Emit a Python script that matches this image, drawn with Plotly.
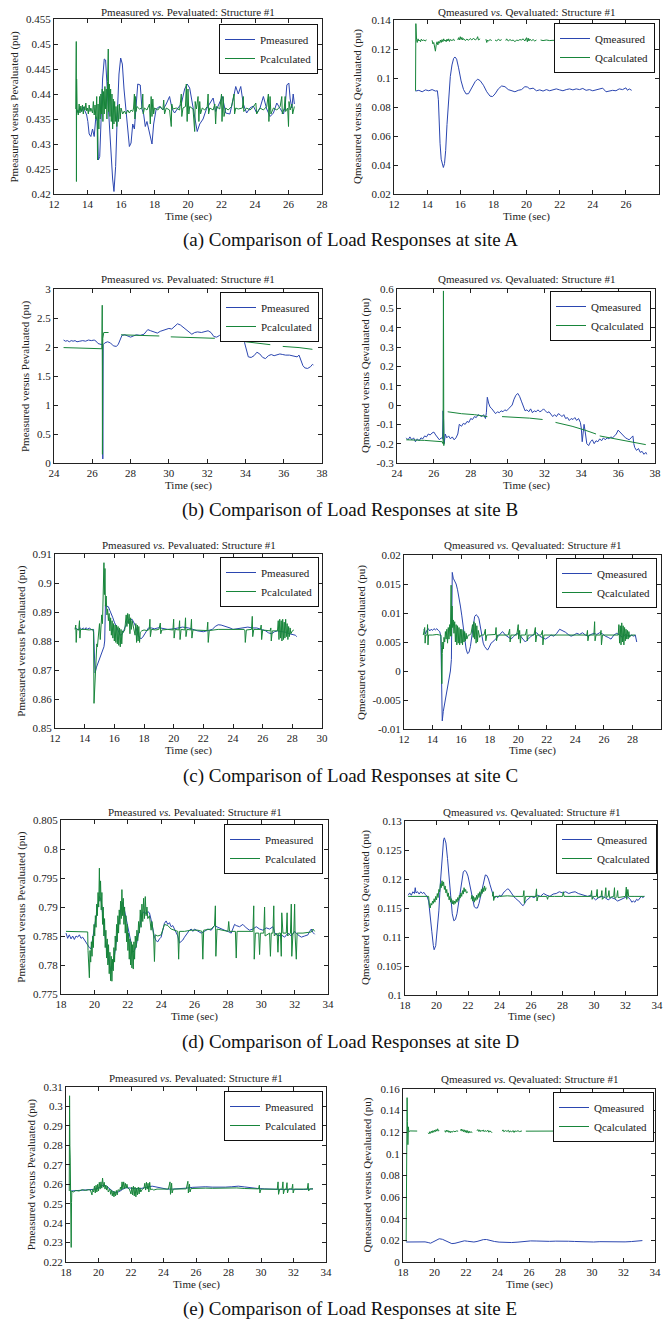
import plotly.graph_objects as go

W, H = 663, 1320
BLUE = "#2b46b0"
GREEN = "#17853a"
FONT = "Liberation Serif, Times New Roman, serif"

# ---------------- tick labels ----------------
x_ticks_a = ["12", "14", "16", "18", "20", "22", "24", "26", "28"]
x_ticks_b = ["24", "26", "28", "30", "32", "34", "36", "38"]
x_ticks_c = ["12", "14", "16", "18", "20", "22", "24", "26", "28", "30"]
x_ticks_de = ["18", "20", "22", "24", "26", "28", "30", "32", "34"]

a_p_yticks = ["0.42", "0.425", "0.43", "0.435", "0.44", "0.445", "0.45", "0.455"]
a_q_yticks = ["0.02", "0.04", "0.06", "0.08", "0.1", "0.12", "0.14"]
b_p_yticks = ["0", "0.5", "1", "1.5", "2", "2.5", "3"]
b_q_yticks = ["-0.3", "-0.2", "-0.1", "0", "0.1", "0.2", "0.3", "0.4", "0.5", "0.6"]
c_p_yticks = ["0.85", "0.86", "0.87", "0.88", "0.89", "0.9", "0.91"]
c_q_yticks = ["-0.01", "-0.005", "0", "0.005", "0.01", "0.015", "0.02"]
d_p_yticks = ["0.775", "0.78", "0.785", "0.79", "0.795", "0.8", "0.805"]
d_q_yticks = ["0.1", "0.105", "0.11", "0.115", "0.12", "0.125", "0.13"]
e_p_yticks = ["0.22", "0.23", "0.24", "0.25", "0.26", "0.27", "0.28", "0.29", "0.3", "0.31"]
e_q_yticks = ["0", "0.02", "0.04", "0.06", "0.08", "0.1", "0.12", "0.14", "0.16"]

captions = [
    "(a) Comparison of Load Responses at site A",
    "(b) Comparison of Load Responses at site B",
    "(c) Comparison of Load Responses at site C",
    "(d) Comparison of Load Responses at site D",
    "(e) Comparison of Load Responses at site E",
]

# ---------------- site A ----------------
a_p_meas = [(13.33,0.4370),(13.45,0.4362),(13.55,0.4372),(13.65,0.4365),(13.75,0.4374),(13.85,0.4366),(13.95,0.4358),(14.02,0.4345),(14.1,0.4320),(14.2,0.4315),(14.3,0.4330),(14.4,0.4315),(14.5,0.4355),(14.58,0.4345),(14.65,0.4268),(14.73,0.4275),(14.8,0.4340),(14.9,0.4430),(15.0,0.4470),(15.08,0.4468),(15.18,0.4410),(15.3,0.4340),(15.4,0.4280),(15.5,0.4230),(15.58,0.4205),(15.68,0.4255),(15.78,0.4360),(15.88,0.4440),(15.98,0.4472),(16.08,0.4460),(16.18,0.4410),(16.28,0.4370),(16.38,0.4340),(16.5,0.4295),(16.6,0.4302),(16.7,0.4340),(16.8,0.4330),(16.9,0.4380),(17.0,0.4420),(17.15,0.4418),(17.25,0.4370),(17.35,0.4360),(17.45,0.4335),(17.55,0.4345),(17.7,0.4320),(17.85,0.4300),(17.95,0.4340),(18.1,0.4370),(18.3,0.4375),(18.5,0.4368),(18.7,0.4380),(18.9,0.4395),(19.05,0.4370),(19.2,0.4362),(19.4,0.4372),(19.6,0.4380),(19.8,0.4410),(19.95,0.4420),(20.1,0.4412),(20.25,0.4380),(20.4,0.4350),(20.55,0.4325),(20.7,0.4340),(20.9,0.4350),(21.1,0.4370),(21.3,0.4382),(21.5,0.4392),(21.65,0.4365),(21.85,0.4380),(22.05,0.4395),(22.25,0.4362),(22.5,0.4360),(22.7,0.4390),(22.85,0.4415),(23.0,0.4400),(23.15,0.4415),(23.3,0.4380),(23.5,0.4362),(23.7,0.4372),(23.9,0.4376),(24.1,0.4362),(24.3,0.4372),(24.5,0.4395),(24.7,0.4370),(24.9,0.4355),(25.1,0.4362),(25.3,0.4382),(25.5,0.4370),(25.7,0.4360),(25.8,0.4375),(25.9,0.4418),(26.02,0.4422),(26.1,0.4390),(26.2,0.4372),(26.28,0.4400),(26.35,0.4380)]
a_p_calc = [(13.30,0.4370),(13.31,0.4505),(13.32,0.4445),(13.33,0.4505),(13.34,0.4225),(13.35,0.4430),(13.36,0.4300),(13.38,0.4370),(13.45,0.4358),(13.5,0.4380),(13.55,0.4362),(13.6,0.4376),(13.65,0.4365),(13.7,0.4378),(13.75,0.4360),(13.8,0.4375),(13.85,0.4368),(13.9,0.4382),(13.95,0.4366),(14.0,0.4372),(14.05,0.4360),(14.1,0.4378),(14.15,0.4365),(14.2,0.4372),(14.3,0.4362),(14.35,0.4385),(14.4,0.4358),(14.45,0.4378),(14.5,0.4350),(14.55,0.4395),(14.58,0.4340),(14.6,0.4268),(14.63,0.4380),(14.68,0.4330),(14.72,0.4395),(14.76,0.4350),(14.8,0.4400),(14.84,0.4360),(14.88,0.4410),(14.92,0.4345),(14.96,0.4405),(15.0,0.4360),(15.04,0.4415),(15.08,0.4370),(15.12,0.4410),(15.16,0.4350),(15.2,0.4425),(15.24,0.4490),(15.26,0.4365),(15.3,0.4420),(15.34,0.4355),(15.38,0.4410),(15.42,0.4345),(15.46,0.4400),(15.5,0.4330),(15.54,0.4390),(15.58,0.4340),(15.62,0.4385),(15.66,0.4345),(15.7,0.4375),(15.75,0.4335),(15.8,0.4378),(15.85,0.4345),(15.9,0.4380),(15.95,0.4350),(16.0,0.4372),(16.1,0.4360),(16.2,0.4366),(16.3,0.4360),(16.4,0.4368),(16.5,0.4362),(16.6,0.4368),(16.7,0.4365),(16.75,0.4372),(16.8,0.4400),(16.83,0.4350),(16.87,0.4395),(16.9,0.4365),(16.95,0.4375),(17.1,0.4370),(17.25,0.4372),(17.3,0.4400),(17.33,0.4360),(17.4,0.4372),(17.55,0.4368),(17.7,0.4380),(17.75,0.4340),(17.8,0.4395),(17.85,0.4355),(17.9,0.4390),(17.95,0.4360),(18.0,0.4372),(18.2,0.4368),(18.35,0.4375),(18.5,0.4368),(18.55,0.4388),(18.6,0.4360),(18.7,0.4372),(18.9,0.4368),(19.0,0.4335),(19.03,0.4380),(19.1,0.4370),(19.3,0.4372),(19.5,0.4368),(19.6,0.4400),(19.63,0.4355),(19.7,0.4372),(19.85,0.4375),(19.9,0.4420),(19.95,0.4345),(20.0,0.4410),(20.05,0.4360),(20.1,0.4375),(20.3,0.4370),(20.4,0.4325),(20.43,0.4385),(20.5,0.4370),(20.6,0.4395),(20.65,0.4345),(20.7,0.4385),(20.75,0.4360),(20.85,0.4372),(21.0,0.4368),(21.15,0.4375),(21.2,0.4400),(21.23,0.4360),(21.3,0.4372),(21.5,0.4368),(21.6,0.4380),(21.65,0.4340),(21.7,0.4375),(21.9,0.4370),(22.0,0.4400),(22.03,0.4345),(22.1,0.4395),(22.15,0.4355),(22.25,0.4372),(22.4,0.4368),(22.6,0.4375),(22.75,0.4400),(22.78,0.4360),(22.85,0.4372),(23.0,0.4370),(23.25,0.4372),(23.3,0.4395),(23.33,0.4365),(23.5,0.4372),(23.7,0.4368),(23.9,0.4374),(24.05,0.4382),(24.1,0.4360),(24.3,0.4372),(24.5,0.4368),(24.7,0.4375),(24.8,0.4400),(24.83,0.4345),(24.9,0.4395),(24.95,0.4360),(25.1,0.4372),(25.3,0.4368),(25.5,0.4375),(25.6,0.4395),(25.63,0.4360),(25.75,0.4372),(25.8,0.4395),(25.83,0.4365),(25.95,0.4372),(26.0,0.4335),(26.03,0.4385),(26.1,0.4368),(26.2,0.4380),(26.25,0.4360),(26.35,0.4375)]
a_q_meas = [(13.3,0.0910),(13.5,0.0915),(13.7,0.0905),(13.9,0.0918),(14.1,0.0912),(14.3,0.0920),(14.5,0.0910),(14.62,0.0912),(14.68,0.0850),(14.72,0.0700),(14.78,0.0550),(14.85,0.0440),(14.92,0.0395),(14.98,0.0383),(15.05,0.0410),(15.12,0.0500),(15.2,0.0680),(15.3,0.0880),(15.4,0.1010),(15.5,0.1090),(15.6,0.1135),(15.68,0.1145),(15.78,0.1130),(15.9,0.1070),(16.05,0.0980),(16.2,0.0920),(16.35,0.0890),(16.5,0.0892),(16.7,0.0930),(16.9,0.0975),(17.05,0.0992),(17.2,0.0982),(17.4,0.0950),(17.6,0.0905),(17.8,0.0875),(17.95,0.0872),(18.1,0.0890),(18.3,0.0925),(18.5,0.0945),(18.7,0.0940),(18.9,0.0920),(19.1,0.0912),(19.3,0.0905),(19.5,0.0915),(19.7,0.0920),(19.9,0.0940),(20.05,0.0938),(20.2,0.0925),(20.4,0.0930),(20.6,0.0912),(20.8,0.0918),(21.0,0.0910),(21.2,0.0920),(21.4,0.0912),(21.6,0.0918),(21.8,0.0925),(22.0,0.0918),(22.2,0.0912),(22.4,0.0920),(22.6,0.0925),(22.8,0.0918),(23.0,0.0925),(23.2,0.0920),(23.4,0.0928),(23.6,0.0915),(23.8,0.0920),(24.0,0.0912),(24.2,0.0918),(24.4,0.0928),(24.6,0.0930),(24.8,0.0905),(25.0,0.0908),(25.2,0.0915),(25.4,0.0912),(25.6,0.0925),(25.8,0.0920),(26.0,0.0932),(26.1,0.0915),(26.2,0.0925),(26.35,0.0915)]
a_q_calc = [(13.3,0.0912),(13.32,0.1375),(13.34,0.1200),(13.36,0.1265),(13.4,0.1245),(13.45,0.1270),(13.5,0.1255),(13.55,0.1262),(13.6,0.1250),(13.65,0.1268),(13.7,0.1258),(13.8,0.1262),(13.9,0.1255),(13.95,0.1265),(14.0,None),(14.3,0.1260),(14.35,0.1235),(14.4,0.1245),(14.45,0.1200),(14.5,0.1185),(14.55,0.1230),(14.6,0.1250),(14.65,0.1228),(14.7,0.1252),(14.75,0.1240),(14.8,0.1262),(14.85,0.1245),(14.9,0.1265),(14.95,0.1250),(15.0,0.1270),(15.05,0.1255),(15.1,0.1262),(15.15,0.1250),(15.2,0.1268),(15.25,0.1255),(15.3,0.1270),(15.35,0.1252),(15.4,0.1265),(15.5,0.1258),(15.6,0.1268),(15.65,0.1255),(15.7,None),(15.85,0.1262),(15.9,0.1278),(15.95,0.1262),(16.0,0.1285),(16.05,0.1265),(16.1,0.1280),(16.15,0.1262),(16.2,0.1272),(16.3,0.1258),(16.4,0.1268),(16.5,0.1260),(16.6,0.1272),(16.7,0.1262),(16.8,0.1275),(16.9,0.1262),(17.0,0.1270),(17.05,0.1285),(17.1,0.1262),(17.2,0.1270),(17.3,None),(17.55,0.1268),(17.6,0.1245),(17.65,0.1262),(17.7,0.1255),(17.8,0.1265),(17.9,0.1258),(18.0,None),(18.1,0.1262),(18.2,0.1255),(18.3,0.1268),(18.4,0.1258),(18.5,0.1265),(18.6,None),(18.75,0.1258),(18.8,0.1270),(18.9,0.1255),(19.0,0.1265),(19.1,0.1258),(19.2,0.1262),(19.3,0.1250),(19.4,0.1262),(19.5,0.1258),(19.6,0.1265),(19.7,0.1262),(19.8,0.1270),(19.9,0.1255),(20.0,0.1278),(20.05,0.1250),(20.1,0.1275),(20.15,0.1255),(20.2,0.1268),(20.3,0.1258),(20.4,0.1265),(20.5,0.1255),(20.6,0.1262),(20.7,None),(20.85,0.1262),(21.0,0.1258),(21.2,0.1262),(21.4,0.1258),(21.6,0.1260),(21.8,0.1258),(22.0,0.1262),(22.1,None),(22.3,0.1258),(22.6,0.1260),(23.0,0.1258),(23.5,0.1262),(24.0,0.1258),(24.5,0.1262),(25.0,0.1258),(25.5,0.1260),(26.0,0.1258),(26.3,0.1260)]

# ---------------- site B ----------------
b_p_meas = [(24.5,2.12),(24.6,2.10),(24.7,2.11),(24.8,2.09),(24.9,2.11),(25.0,2.10),(25.1,2.11),(25.2,2.09),(25.35,2.10),(25.5,2.11),(25.65,2.10),(25.8,2.12),(25.95,2.11),(26.1,2.12),(26.2,2.10),(26.3,2.06),(26.4,2.05),(26.5,2.04),(26.53,2.06),(26.55,0.07),(26.57,2.04),(26.65,2.07),(26.8,2.09),(26.95,2.07),(27.1,2.02),(27.25,2.01),(27.35,2.04),(27.45,2.14),(27.55,2.20),(27.7,2.21),(27.85,2.19),(28.0,2.17),(28.15,2.19),(28.3,2.21),(28.5,2.20),(28.7,2.22),(28.8,2.26),(28.9,2.30),(29.05,2.28),(29.2,2.26),(29.4,2.24),(29.55,2.27),(29.7,2.29),(29.85,2.30),(30.0,2.32),(30.15,2.31),(30.3,2.36),(30.45,2.40),(30.6,2.38),(30.75,2.34),(30.9,2.30),(31.05,2.25),(31.2,2.22),(31.35,2.25),(31.5,2.26),(31.7,2.25),(31.9,2.27),(32.05,2.28),(32.2,2.25),(32.35,2.18),(32.5,2.17),(32.65,2.20),(32.8,2.20),(33.0,2.19),(33.2,2.19),(33.4,2.16),(33.6,2.15),(33.8,2.13),(33.95,2.08),(34.05,1.95),(34.15,1.83),(34.3,1.82),(34.45,1.85),(34.6,1.91),(34.75,1.88),(34.9,1.82),(35.05,1.80),(35.2,1.85),(35.35,1.87),(35.5,1.85),(35.65,1.86),(35.8,1.88),(35.95,1.87),(36.1,1.86),(36.3,1.86),(36.5,1.84),(36.7,1.83),(36.8,1.86),(36.9,1.76),(37.0,1.68),(37.1,1.64),(37.25,1.63),(37.4,1.66),(37.5,1.70),(37.55,1.69)]
b_p_calc = [(24.5,1.99),(25.0,1.985),(25.5,1.98),(26.0,1.975),(26.5,1.97),(26.52,2.72),(26.53,0.15),(26.55,2.15),(26.6,2.25),(26.85,2.25),(27.0,None),(27.5,2.21),(28.5,2.205),(29.5,2.19),(29.8,None),(30.1,2.175),(31.2,2.165),(32.4,2.15),(32.7,None),(33.0,2.13),(34.0,2.09),(35.3,2.04),(35.6,None),(35.95,2.01),(36.8,1.99),(37.5,1.96)]
b_q_meas = [(24.5,-0.17),(24.6,-0.18),(24.7,-0.165),(24.8,-0.18),(24.9,-0.17),(25.0,-0.19),(25.1,-0.175),(25.2,-0.185),(25.3,-0.17),(25.4,-0.175),(25.5,-0.16),(25.6,-0.165),(25.7,-0.15),(25.8,-0.155),(25.9,-0.145),(26.0,-0.14),(26.1,-0.155),(26.2,-0.165),(26.3,-0.18),(26.4,-0.17),(26.47,-0.175),(26.5,-0.03),(26.53,-0.08),(26.56,-0.20),(26.62,-0.15),(26.7,-0.17),(26.8,-0.16),(26.9,-0.175),(27.0,-0.165),(27.1,-0.18),(27.2,-0.17),(27.3,-0.15),(27.38,-0.10),(27.5,-0.11),(27.6,-0.095),(27.7,-0.10),(27.8,-0.085),(27.9,-0.09),(28.0,-0.07),(28.1,-0.075),(28.2,-0.06),(28.3,-0.065),(28.4,-0.05),(28.5,-0.055),(28.6,-0.06),(28.7,-0.05),(28.8,-0.07),(28.85,-0.04),(28.9,0.04),(28.97,0.01),(29.05,-0.01),(29.15,-0.02),(29.25,-0.03),(29.35,-0.045),(29.45,-0.035),(29.55,-0.04),(29.65,-0.03),(29.75,-0.035),(29.85,-0.025),(29.95,-0.03),(30.05,-0.02),(30.15,-0.01),(30.25,0.0),(30.35,0.03),(30.45,0.05),(30.55,0.06),(30.65,0.045),(30.75,0.02),(30.85,-0.01),(30.95,-0.03),(31.05,-0.025),(31.15,-0.035),(31.25,-0.02),(31.35,-0.04),(31.45,-0.03),(31.55,-0.035),(31.65,-0.025),(31.75,-0.035),(31.85,-0.03),(31.95,-0.02),(32.05,-0.03),(32.15,-0.04),(32.25,-0.035),(32.35,-0.05),(32.45,-0.06),(32.55,-0.05),(32.65,-0.06),(32.75,-0.045),(32.85,-0.05),(32.95,-0.06),(33.05,-0.05),(33.15,-0.07),(33.25,-0.065),(33.35,-0.08),(33.45,-0.07),(33.55,-0.075),(33.65,-0.065),(33.75,-0.08),(33.85,-0.07),(33.95,-0.09),(34.0,-0.12),(34.05,-0.19),(34.1,-0.15),(34.15,-0.10),(34.2,-0.13),(34.3,-0.20),(34.4,-0.21),(34.5,-0.19),(34.6,-0.18),(34.7,-0.2),(34.8,-0.185),(34.9,-0.19),(35.0,-0.175),(35.1,-0.185),(35.2,-0.17),(35.3,-0.18),(35.4,-0.17),(35.5,-0.175),(35.6,-0.165),(35.7,-0.17),(35.8,-0.16),(35.9,-0.15),(36.0,-0.13),(36.1,-0.14),(36.2,-0.155),(36.3,-0.16),(36.4,-0.17),(36.5,-0.175),(36.6,-0.18),(36.7,-0.17),(36.8,-0.16),(36.85,-0.2),(36.9,-0.22),(37.0,-0.235),(37.1,-0.225),(37.2,-0.245),(37.3,-0.24),(37.4,-0.255),(37.5,-0.245),(37.55,-0.255)]
b_q_calc = [(24.5,-0.18),(25.5,-0.183),(26.45,-0.19),(26.5,-0.20),(26.52,0.59),(26.54,-0.21),(26.56,-0.19),(26.6,None),(26.75,-0.035),(27.5,-0.045),(28.2,-0.05),(28.9,-0.06),(29.2,None),(29.7,-0.06),(30.5,-0.063),(31.2,-0.068),(31.9,-0.075),(32.2,None),(32.6,-0.09),(33.5,-0.11),(34.2,-0.13),(34.8,-0.15),(34.9,None),(35.0,-0.16),(35.8,-0.175),(36.6,-0.19),(37.5,-0.205)]

# ---------------- site C ----------------
c_p_meas = [(13.35,0.8845),(13.5,0.8842),(13.6,0.8838),(13.7,0.8845),(13.8,0.8840),(13.9,0.8845),(14.0,0.8840),(14.1,0.8846),(14.2,0.8840),(14.3,0.8845),(14.4,0.8842),(14.5,0.8838),(14.6,0.8840),(14.65,0.8760),(14.7,0.8690),(14.8,0.8710),(14.9,0.8725),(15.0,0.8740),(15.1,0.8750),(15.2,0.8770),(15.3,0.8780),(15.35,0.8800),(15.4,0.8925),(15.5,0.8920),(15.6,0.8918),(15.7,0.8905),(15.8,0.8895),(15.9,0.8880),(16.0,0.8865),(16.1,0.8855),(16.2,0.8840),(16.3,0.8830),(16.4,0.8820),(16.5,0.8822),(16.6,0.8830),(16.7,0.8845),(16.8,0.8858),(16.9,0.8868),(17.0,0.8875),(17.1,0.8872),(17.2,0.8875),(17.3,0.8865),(17.4,0.8855),(17.5,0.8838),(17.6,0.8820),(17.7,0.8812),(17.8,0.8808),(17.9,0.8812),(18.0,0.8820),(18.15,0.8835),(18.3,0.8845),(18.5,0.8845),(18.7,0.8842),(19.0,0.8846),(19.3,0.8842),(19.6,0.8840),(20.0,0.8842),(20.3,0.8845),(20.6,0.8848),(21.0,0.8845),(21.3,0.8840),(21.6,0.8835),(22.0,0.8832),(22.3,0.8835),(22.6,0.8840),(22.8,0.8850),(23.0,0.8856),(23.2,0.8855),(23.4,0.8852),(23.6,0.8848),(23.8,0.8845),(24.0,0.8840),(24.3,0.8842),(24.6,0.8845),(25.0,0.8848),(25.3,0.8845),(25.6,0.8845),(25.9,0.8840),(26.2,0.8835),(26.4,0.8828),(26.6,0.8825),(26.8,0.8832),(27.0,0.8835),(27.3,0.8832),(27.6,0.8830),(27.8,0.8825),(28.0,0.8822),(28.2,0.8820),(28.3,0.8815)]
c_p_calc = [(13.35,0.8840),(13.4,0.8855),(13.43,0.8795),(13.47,0.8840),(13.6,0.8838),(13.65,0.8870),(13.68,0.8810),(13.72,0.8840),(14.0,0.8840),(14.3,0.8838),(14.55,0.8840),(14.6,0.8830),(14.63,0.8585),(14.66,0.8620),(14.7,0.8660),(14.74,0.8700),(14.78,0.8740),(14.82,0.8790),(14.86,0.8780),(14.9,0.8800),(14.95,0.8830),(15.0,0.8860),(15.05,0.8805),(15.1,0.8850),(15.15,0.8890),(15.2,0.8860),(15.25,0.8950),(15.3,0.9070),(15.33,0.8960),(15.37,0.9050),(15.4,0.8920),(15.45,0.8955),(15.5,0.8890),(15.55,0.8910),(15.6,0.8870),(15.65,0.8895),(15.7,0.8835),(15.75,0.8880),(15.8,0.8820),(15.85,0.8870),(15.9,0.8810),(15.95,0.8860),(16.0,0.8800),(16.05,0.8855),(16.1,0.8795),(16.15,0.8855),(16.2,0.8790),(16.25,0.8850),(16.3,0.8785),(16.35,0.8845),(16.4,0.8780),(16.45,0.8840),(16.5,0.8790),(16.55,0.8835),(16.6,0.8830),(16.7,0.8838),(16.8,0.8890),(16.85,0.8850),(16.9,0.8895),(16.95,0.8860),(17.0,0.8892),(17.05,0.8825),(17.1,0.8880),(17.15,0.8840),(17.2,0.8870),(17.3,0.8850),(17.4,0.8820),(17.45,0.8860),(17.5,0.8795),(17.55,0.8855),(17.6,0.8800),(17.65,0.8850),(17.7,0.8795),(17.75,0.8830),(17.85,0.8835),(18.0,0.8838),(18.2,0.8836),(18.35,0.8840),(18.4,0.8875),(18.43,0.8815),(18.5,0.8840),(18.8,0.8838),(19.0,0.8840),(19.1,0.8862),(19.13,0.8825),(19.2,0.8838),(19.6,0.8840),(19.95,0.8838),(20.0,0.8875),(20.03,0.8810),(20.1,0.8840),(20.35,0.8838),(20.4,0.8870),(20.43,0.8805),(20.5,0.8840),(20.75,0.8838),(20.8,0.8880),(20.83,0.8815),(20.9,0.8840),(21.15,0.8838),(21.2,0.8875),(21.23,0.8810),(21.3,0.8838),(22.25,0.8836),(22.3,0.8865),(22.33,0.8795),(22.4,0.8836),(23.0,0.8840),(24.0,0.8840),(24.75,0.8840),(24.8,0.8835),(24.83,0.8795),(24.9,0.8838),(25.25,0.8840),(25.3,0.8885),(25.33,0.8815),(25.4,0.8840),(25.85,0.8840),(25.9,0.8855),(25.93,0.8805),(26.0,0.8838),(26.5,0.8835),(26.55,0.8845),(26.58,0.8800),(26.65,0.8835),(27.0,0.8835),(27.05,0.8870),(27.1,0.8805),(27.15,0.8875),(27.2,0.8810),(27.25,0.8870),(27.3,0.8800),(27.35,0.8875),(27.4,0.8805),(27.45,0.8865),(27.5,0.8810),(27.55,0.8875),(27.6,0.8815),(27.65,0.8860),(27.7,0.8805),(27.75,0.8850),(27.8,0.8815),(27.85,0.8845),(27.9,0.8825),(28.0,0.8835),(28.1,0.8838)]
c_q_meas = [(13.4,0.0072),(13.5,0.0064),(13.6,0.0070),(13.7,0.0073),(13.8,0.0069),(13.9,0.0072),(14.0,0.0070),(14.1,0.0073),(14.2,0.0071),(14.3,0.0073),(14.4,0.0070),(14.5,0.0068),(14.58,0.0060),(14.63,0.0000),(14.68,-0.0086),(14.75,-0.0070),(14.85,-0.0055),(14.95,-0.0040),(15.05,-0.0030),(15.15,-0.0015),(15.25,0.0000),(15.32,0.0020),(15.38,0.0170),(15.45,0.0160),(15.55,0.0155),(15.65,0.0150),(15.75,0.0140),(15.85,0.0128),(15.95,0.0112),(16.05,0.0095),(16.15,0.0075),(16.25,0.0055),(16.35,0.0038),(16.45,0.0030),(16.55,0.0032),(16.65,0.0042),(16.75,0.0060),(16.85,0.0082),(16.95,0.0094),(17.05,0.0097),(17.15,0.0095),(17.25,0.0090),(17.35,0.0075),(17.45,0.0060),(17.55,0.0048),(17.65,0.0042),(17.75,0.0038),(17.85,0.0036),(17.95,0.0040),(18.1,0.0048),(18.3,0.0052),(18.5,0.0058),(18.7,0.0062),(18.9,0.0068),(19.1,0.0062),(19.3,0.0058),(19.5,0.0055),(19.7,0.0060),(19.9,0.0065),(20.1,0.0062),(20.3,0.0055),(20.5,0.0050),(20.7,0.0055),(20.9,0.0060),(21.1,0.0063),(21.3,0.0066),(21.5,0.0060),(21.7,0.0057),(21.9,0.0055),(22.1,0.0058),(22.3,0.0062),(22.5,0.0060),(22.7,0.0065),(22.9,0.0072),(23.1,0.0070),(23.3,0.0067),(23.5,0.0063),(23.7,0.0060),(23.9,0.0062),(24.1,0.0065),(24.3,0.0063),(24.5,0.0066),(24.7,0.0062),(24.9,0.0060),(25.1,0.0063),(25.3,0.0065),(25.5,0.0063),(25.7,0.0066),(25.9,0.0064),(26.1,0.0060),(26.3,0.0058),(26.5,0.0055),(26.7,0.0062),(26.9,0.0065),(27.1,0.0062),(27.3,0.0058),(27.5,0.0063),(27.7,0.0060),(27.9,0.0062),(28.1,0.0060),(28.2,0.0062),(28.3,0.0050)]
c_q_calc = [(13.35,0.0062),(13.45,0.0075),(13.48,0.0048),(13.52,0.0062),(13.62,0.0062),(13.65,0.0080),(13.68,0.0045),(13.72,0.0062),(14.0,0.0062),(14.3,0.0063),(14.5,0.0062),(14.58,0.0062),(14.62,0.0040),(14.65,-0.0022),(14.68,0.0030),(14.72,0.0050),(14.76,0.0038),(14.8,0.0058),(14.85,0.0050),(14.9,0.0068),(14.95,0.0055),(15.0,0.0072),(15.05,0.0048),(15.1,0.0075),(15.15,0.0055),(15.2,0.0080),(15.25,0.0060),(15.3,0.0148),(15.33,0.0060),(15.37,0.0112),(15.4,0.0075),(15.45,0.0088),(15.5,0.0065),(15.55,0.0085),(15.6,0.0050),(15.65,0.0080),(15.7,0.0045),(15.75,0.0078),(15.8,0.0048),(15.85,0.0075),(15.9,0.0045),(15.95,0.0072),(16.0,0.0048),(16.05,0.0072),(16.1,0.0045),(16.15,0.0070),(16.2,0.0050),(16.25,0.0068),(16.3,0.0052),(16.35,0.0065),(16.4,0.0055),(16.5,0.0062),(16.6,0.0062),(16.7,0.0065),(16.8,0.0080),(16.85,0.0058),(16.9,0.0085),(16.95,0.0055),(17.0,0.0082),(17.05,0.0048),(17.1,0.0078),(17.15,0.0050),(17.2,0.0070),(17.3,0.0058),(17.4,0.0062),(17.6,0.0062),(17.7,0.0072),(17.73,0.0052),(17.8,0.0062),(18.2,0.0062),(18.4,0.0063),(18.45,0.0075),(18.48,0.0052),(18.55,0.0062),(19.0,0.0062),(19.3,0.0062),(19.4,0.0072),(19.43,0.0050),(19.5,0.0062),(19.9,0.0062),(20.0,0.0080),(20.03,0.0055),(20.1,0.0070),(20.15,0.0048),(20.2,0.0062),(20.5,0.0062),(20.6,0.0072),(20.63,0.0052),(20.7,0.0062),(21.1,0.0062),(21.2,0.0075),(21.23,0.0050),(21.3,0.0062),(21.6,0.0062),(21.7,0.0070),(21.73,0.0045),(21.8,0.0062),(22.3,0.0062),(23.0,0.0062),(24.0,0.0062),(24.8,0.0062),(24.85,0.0070),(24.88,0.0052),(24.95,0.0062),(25.3,0.0062),(25.35,0.0085),(25.38,0.0052),(25.45,0.0062),(25.75,0.0062),(25.8,0.0070),(25.83,0.0045),(25.9,0.0062),(26.4,0.0062),(27.0,0.0062),(27.05,0.0080),(27.1,0.0048),(27.15,0.0078),(27.2,0.0045),(27.25,0.0083),(27.3,0.0050),(27.35,0.0078),(27.4,0.0045),(27.45,0.0075),(27.5,0.0052),(27.55,0.0072),(27.6,0.0055),(27.65,0.0070),(27.7,0.0055),(27.75,0.0068),(27.8,0.0058),(27.9,0.0062),(28.2,0.0062)]

# ---------------- site D ----------------
d_p_meas = [(18.3,0.7855),(18.4,0.7846),(18.5,0.7852),(18.6,0.7845),(18.7,0.7850),(18.8,0.7844),(18.9,0.7850),(19.0,0.7848),(19.1,0.7852),(19.2,0.7846),(19.3,0.7848),(19.4,0.7843),(19.5,0.7838),(19.6,0.7835),(19.7,0.7830),(19.8,0.7828),(19.9,0.7845),(20.0,0.7868),(20.1,0.7885),(20.2,0.7900),(20.3,0.7918),(20.4,0.7912),(20.5,0.7890),(20.6,0.7862),(20.7,0.7835),(20.8,0.7815),(20.9,0.7800),(21.0,0.7790),(21.1,0.7795),(21.2,0.7815),(21.3,0.7840),(21.4,0.7862),(21.5,0.7882),(21.6,0.7898),(21.7,0.7908),(21.8,0.7895),(21.9,0.7882),(22.0,0.7868),(22.1,0.7852),(22.2,0.7838),(22.3,0.7822),(22.4,0.7825),(22.5,0.7832),(22.6,0.7845),(22.7,0.7862),(22.8,0.7878),(22.9,0.7890),(23.0,0.7892),(23.1,0.7888),(23.2,0.7892),(23.3,0.7890),(23.4,0.7878),(23.5,0.7862),(23.6,0.7848),(23.7,0.7842),(23.8,0.7840),(23.9,0.7845),(24.0,0.7848),(24.1,0.7860),(24.2,0.7872),(24.3,0.7876),(24.4,0.7870),(24.5,0.7873),(24.6,0.7866),(24.7,0.7868),(24.8,0.7862),(24.9,0.7858),(25.0,0.7850),(25.1,0.7838),(25.2,0.7840),(25.3,0.7843),(25.4,0.7848),(25.5,0.7852),(25.6,0.7857),(25.7,0.7860),(25.8,0.7862),(25.9,0.7858),(26.0,0.7862),(26.2,0.7858),(26.4,0.7855),(26.6,0.7858),(26.8,0.7862),(27.0,0.7860),(27.2,0.7868),(27.4,0.7865),(27.6,0.7862),(27.8,0.7860),(28.0,0.7858),(28.2,0.7855),(28.4,0.7870),(28.5,0.7868),(28.7,0.7866),(28.9,0.7870),(29.1,0.7864),(29.3,0.7860),(29.5,0.7862),(29.7,0.7866),(29.9,0.7862),(30.1,0.7860),(30.3,0.7864),(30.5,0.7862),(30.7,0.7866),(30.8,0.7856),(31.0,0.7850),(31.2,0.7852),(31.4,0.7848),(31.6,0.7855),(31.8,0.7850),(32.0,0.7858),(32.2,0.7852),(32.4,0.7848),(32.6,0.7850),(32.8,0.7852),(32.9,0.7858),(33.0,0.7862),(33.1,0.7856),(33.2,0.7853)]
d_p_calc = [(18.3,0.7858),(19.0,0.7858),(19.6,0.7857),(19.62,0.7825),(19.66,0.7800),(19.7,0.7778),(19.74,0.7825),(19.78,0.7805),(19.82,0.7840),(19.86,0.7815),(19.9,0.7850),(19.94,0.7830),(19.98,0.7870),(20.02,0.7850),(20.06,0.7885),(20.1,0.7865),(20.14,0.7905),(20.18,0.7885),(20.22,0.7925),(20.26,0.7900),(20.3,0.7967),(20.33,0.7910),(20.37,0.7945),(20.41,0.7895),(20.45,0.7925),(20.49,0.7870),(20.53,0.7900),(20.57,0.7850),(20.61,0.7880),(20.65,0.7830),(20.69,0.7860),(20.73,0.7812),(20.77,0.7845),(20.81,0.7800),(20.85,0.7835),(20.89,0.7785),(20.93,0.7822),(20.97,0.7773),(21.01,0.7815),(21.05,0.7772),(21.09,0.7810),(21.13,0.7790),(21.17,0.7830),(21.21,0.7805),(21.25,0.7850),(21.29,0.7825),(21.33,0.7870),(21.37,0.7840),(21.41,0.7885),(21.45,0.7855),(21.49,0.7895),(21.53,0.7870),(21.57,0.7910),(21.61,0.7880),(21.65,0.7930),(21.69,0.7885),(21.73,0.7915),(21.77,0.7870),(21.81,0.7900),(21.85,0.7855),(21.89,0.7885),(21.93,0.7840),(21.97,0.7870),(22.01,0.7825),(22.05,0.7855),(22.09,0.7810),(22.13,0.7845),(22.17,0.7800),(22.21,0.7840),(22.25,0.7795),(22.29,0.7835),(22.33,0.7793),(22.37,0.7840),(22.41,0.7810),(22.45,0.7850),(22.5,0.7830),(22.55,0.7860),(22.6,0.7842),(22.65,0.7875),(22.7,0.7855),(22.75,0.7895),(22.8,0.7865),(22.85,0.7905),(22.9,0.7875),(22.95,0.7915),(23.0,0.7880),(23.05,0.7918),(23.1,0.7885),(23.15,0.7900),(23.2,0.7880),(23.3,0.7885),(23.4,0.7860),(23.45,0.7875),(23.55,0.7850),(23.6,0.7806),(23.65,0.7852),(23.8,0.7850),(24.0,0.7852),(24.2,0.7870),(24.4,0.7868),(24.6,0.7862),(24.8,0.7860),(25.0,0.7858),(25.05,0.7810),(25.1,0.7858),(25.4,0.7858),(25.8,0.7860),(26.2,0.7860),(26.45,0.7858),(26.5,0.7810),(26.55,0.7860),(27.0,0.7862),(27.2,0.7868),(27.25,0.7902),(27.28,0.7815),(27.35,0.7862),(27.8,0.7860),(28.0,0.7858),(28.05,0.7875),(28.1,0.7858),(28.45,0.7858),(28.5,0.7812),(28.55,0.7858),(29.0,0.7858),(29.5,0.7858),(29.55,0.7902),(29.58,0.7810),(29.65,0.7855),(29.85,0.7855),(29.9,0.7818),(29.95,0.7855),(30.15,0.7855),(30.2,0.7900),(30.23,0.7850),(30.5,0.7855),(30.55,0.7815),(30.6,0.7855),(30.7,0.7855),(30.75,0.7902),(30.78,0.7850),(30.95,0.7855),(31.0,0.7822),(31.05,0.7855),(31.15,0.7855),(31.2,0.7815),(31.23,0.7890),(31.3,0.7855),(31.5,0.7855),(31.55,0.7890),(31.58,0.7850),(31.75,0.7855),(31.8,0.7905),(31.83,0.7815),(31.9,0.7855),(31.95,0.7855),(32.0,0.7905),(32.03,0.7850),(32.1,0.7810),(32.15,0.7855),(32.5,0.7855),(33.0,0.7857),(33.1,0.7862),(33.2,0.7858)]
d_q_meas = [(18.2,0.1172),(18.3,0.1176),(18.4,0.1172),(18.5,0.1178),(18.6,0.1175),(18.65,0.1185),(18.7,0.1176),(18.8,0.1178),(18.9,0.1174),(19.0,0.1178),(19.1,0.1175),(19.2,0.1177),(19.3,0.1173),(19.4,0.1170),(19.5,0.1162),(19.6,0.1140),(19.7,0.1110),(19.8,0.1085),(19.85,0.1078),(19.95,0.1085),(20.05,0.1110),(20.15,0.1145),(20.25,0.1195),(20.35,0.1240),(20.45,0.1268),(20.5,0.1271),(20.6,0.1262),(20.7,0.1235),(20.8,0.1200),(20.9,0.1165),(21.0,0.1140),(21.1,0.1128),(21.2,0.1130),(21.3,0.1140),(21.4,0.1160),(21.5,0.1180),(21.6,0.1200),(21.7,0.1212),(21.8,0.1215),(21.9,0.1212),(22.0,0.1205),(22.1,0.1192),(22.2,0.1178),(22.3,0.1162),(22.4,0.1152),(22.5,0.1150),(22.6,0.1150),(22.7,0.1158),(22.8,0.1170),(22.9,0.1185),(23.0,0.1198),(23.1,0.1207),(23.2,0.1206),(23.3,0.1200),(23.4,0.1190),(23.5,0.1180),(23.6,0.1172),(23.7,0.1168),(23.8,0.1170),(23.9,0.1168),(24.0,0.1172),(24.1,0.1170),(24.2,0.1175),(24.3,0.1178),(24.4,0.1180),(24.5,0.1183),(24.6,0.1182),(24.7,0.1178),(24.8,0.1172),(24.9,0.1170),(25.0,0.1167),(25.1,0.1165),(25.2,0.1162),(25.3,0.1160),(25.4,0.1156),(25.5,0.1154),(25.6,0.1158),(25.7,0.1163),(25.8,0.1165),(25.9,0.1168),(26.0,0.1170),(26.2,0.1168),(26.4,0.1172),(26.6,0.1170),(26.8,0.1175),(27.0,0.1172),(27.2,0.1170),(27.4,0.1174),(27.6,0.1175),(27.8,0.1178),(28.0,0.1176),(28.2,0.1178),(28.4,0.1175),(28.6,0.1177),(28.8,0.1178),(29.0,0.1175),(29.2,0.1173),(29.4,0.1172),(29.6,0.1170),(29.8,0.1172),(30.0,0.1166),(30.1,0.1164),(30.3,0.1168),(30.5,0.1170),(30.7,0.1168),(30.9,0.1164),(31.1,0.1168),(31.3,0.1166),(31.5,0.1162),(31.7,0.1164),(31.9,0.1167),(32.1,0.1170),(32.3,0.1165),(32.4,0.1160),(32.5,0.1162),(32.6,0.1160),(32.7,0.1165),(32.8,0.1163),(32.9,0.1166),(33.0,0.1170),(33.1,0.1168),(33.2,0.1170)]
d_q_calc = [(18.2,0.1170),(19.0,0.1170),(19.5,0.1170),(19.55,0.1155),(19.6,0.1150),(19.65,0.1158),(19.7,0.1155),(19.75,0.1162),(19.8,0.1158),(19.85,0.1166),(19.9,0.1160),(19.95,0.1170),(20.0,0.1164),(20.05,0.1175),(20.1,0.1168),(20.15,0.1182),(20.2,0.1178),(20.25,0.1192),(20.3,0.1185),(20.35,0.1197),(20.4,0.1188),(20.45,0.1195),(20.5,0.1182),(20.55,0.1188),(20.6,0.1176),(20.65,0.1182),(20.7,0.1170),(20.75,0.1176),(20.8,0.1164),(20.85,0.1170),(20.9,0.1160),(20.95,0.1166),(21.0,0.1157),(21.05,0.1163),(21.1,0.1156),(21.15,0.1162),(21.2,0.1158),(21.25,0.1165),(21.3,0.1160),(21.35,0.1168),(21.4,0.1163),(21.45,0.1172),(21.5,0.1167),(21.55,0.1176),(21.6,0.1170),(21.65,0.1180),(21.7,0.1174),(21.75,0.1185),(21.8,0.1178),(21.85,0.1182),(21.9,0.1176),(22.0,0.1178),(22.1,None),(22.2,0.1165),(22.25,0.1172),(22.3,0.1162),(22.35,0.1170),(22.4,0.1160),(22.45,0.1168),(22.5,0.1163),(22.55,0.1172),(22.6,0.1165),(22.65,0.1175),(22.7,0.1168),(22.75,0.1178),(22.8,0.1170),(22.85,0.1182),(22.9,0.1175),(22.95,0.1185),(23.0,0.1178),(23.05,0.1188),(23.1,0.1180),(23.15,0.1185),(23.3,None),(23.55,0.1170),(23.6,0.1178),(23.63,0.1163),(23.7,0.1170),(24.0,0.1170),(24.5,0.1171),(25.0,0.1170),(25.5,0.1170),(25.55,0.1180),(25.58,0.1158),(25.65,0.1170),(26.0,0.1170),(26.3,0.1170),(26.35,0.1183),(26.38,0.1162),(26.45,0.1170),(27.0,0.1170),(27.05,0.1165),(27.1,0.1170),(27.5,0.1170),(28.0,0.1170),(28.05,0.1178),(28.1,0.1170),(28.8,0.1170),(29.5,0.1170),(29.8,0.1170),(29.85,0.1180),(29.88,0.1165),(29.95,0.1170),(30.15,0.1170),(30.2,0.1182),(30.23,0.1168),(30.45,0.1170),(30.5,0.1180),(30.53,0.1165),(30.7,0.1170),(30.75,0.1185),(30.78,0.1168),(30.9,0.1170),(30.95,0.1180),(30.98,0.1168),(31.25,0.1170),(31.3,0.1185),(31.33,0.1166),(31.45,0.1170),(31.5,0.1180),(31.53,0.1168),(32.0,0.1170),(32.05,0.1186),(32.08,0.1165),(32.15,0.1182),(32.2,0.1170),(32.6,0.1170),(33.0,0.1170),(33.2,0.1170)]

# ---------------- site E ----------------
e_p_meas = [(18.3,0.2565),(18.6,0.2566),(19.0,0.2568),(19.3,0.2570),(19.6,0.2573),(19.9,0.2577),(20.1,0.2585),(20.3,0.2595),(20.5,0.2590),(20.7,0.2575),(20.9,0.2562),(21.1,0.2557),(21.3,0.2563),(21.5,0.2575),(21.7,0.2582),(22.0,0.2580),(22.3,0.2577),(22.6,0.2578),(22.9,0.2583),(23.1,0.2588),(23.3,0.2590),(23.6,0.2585),(23.9,0.2578),(24.2,0.2575),(24.6,0.2575),(25.0,0.2576),(25.4,0.2580),(25.8,0.2584),(26.2,0.2587),(26.6,0.2587),(27.0,0.2585),(27.4,0.2584),(27.8,0.2585),(28.2,0.2587),(28.6,0.2590),(29.0,0.2586),(29.4,0.2581),(29.8,0.2578),(30.2,0.2576),(30.6,0.2574),(31.0,0.2572),(31.4,0.2573),(31.8,0.2574),(32.2,0.2572),(32.6,0.2573),(33.0,0.2575),(33.2,0.2576)]
e_p_calc = [(18.2,0.2565),(18.22,0.3055),(18.24,0.2800),(18.26,0.2735),(18.28,0.2485),(18.3,0.2425),(18.32,0.2275),(18.34,0.2505),(18.36,0.2565),(18.45,0.2560),(18.6,0.2568),(18.8,0.2565),(19.0,0.2572),(19.2,0.2568),(19.4,0.2572),(19.5,0.2570),(19.6,0.2545),(19.63,0.2575),(19.7,0.2560),(19.75,0.2590),(19.8,0.2555),(19.85,0.2595),(19.9,0.2560),(19.95,0.2600),(20.0,0.2565),(20.05,0.2610),(20.1,0.2575),(20.15,0.2612),(20.2,0.2580),(20.25,0.2632),(20.3,0.2585),(20.35,0.2610),(20.4,0.2575),(20.45,0.2595),(20.5,0.2570),(20.55,0.2590),(20.6,0.2560),(20.7,0.2575),(20.75,0.2548),(20.8,0.2570),(20.85,0.2540),(20.9,0.2565),(20.95,0.2535),(21.0,0.2562),(21.05,0.2540),(21.1,0.2568),(21.15,0.2545),(21.2,0.2572),(21.3,0.2565),(21.35,0.2585),(21.4,0.2570),(21.45,0.2612),(21.5,0.2575),(21.55,0.2612),(21.6,0.2578),(21.65,0.2605),(21.7,0.2580),(21.75,0.2600),(21.8,0.2580),(21.9,0.2575),(22.0,0.2550),(22.05,0.2585),(22.1,0.2545),(22.15,0.2590),(22.2,0.2540),(22.25,0.2585),(22.3,0.2535),(22.35,0.2580),(22.4,0.2545),(22.45,0.2585),(22.5,0.2550),(22.55,0.2582),(22.6,0.2560),(22.7,0.2575),(22.8,0.2580),(22.85,0.2605),(22.9,0.2570),(22.95,0.2610),(23.0,0.2575),(23.05,0.2605),(23.1,0.2560),(23.15,0.2610),(23.2,0.2572),(23.3,0.2575),(23.4,0.2570),(23.6,0.2575),(23.8,0.2574),(24.0,0.2575),(24.3,0.2575),(24.4,0.2612),(24.43,0.2548),(24.5,0.2605),(24.53,0.2555),(24.6,0.2575),(25.0,0.2575),(25.4,0.2576),(25.5,0.2615),(25.53,0.2555),(25.6,0.2600),(25.63,0.2560),(25.7,0.2578),(26.2,0.2580),(26.6,0.2580),(27.0,0.2579),(27.5,0.2580),(28.0,0.2580),(28.5,0.2581),(29.0,0.2578),(29.5,0.2576),(29.85,0.2576),(29.9,0.2595),(29.93,0.2555),(30.0,0.2575),(30.5,0.2575),(31.0,0.2574),(31.05,0.2612),(31.08,0.2548),(31.15,0.2575),(31.3,0.2575),(31.35,0.2612),(31.38,0.2550),(31.45,0.2575),(31.55,0.2575),(31.6,0.2608),(31.63,0.2555),(31.7,0.2576),(31.9,0.2576),(31.95,0.2600),(31.98,0.2555),(32.05,0.2575),(32.5,0.2575),(32.85,0.2575),(32.9,0.2605),(32.93,0.2565),(33.0,0.2576),(33.2,0.2576)]
e_q_meas = [(18.2,0.0185),(18.6,0.0186),(19.0,0.0185),(19.4,0.0186),(19.6,0.0180),(19.75,0.0174),(19.9,0.0185),(20.1,0.0200),(20.3,0.0215),(20.5,0.0210),(20.7,0.0195),(20.9,0.0180),(21.1,0.0170),(21.3,0.0173),(21.5,0.0183),(21.7,0.0192),(21.9,0.0196),(22.1,0.0192),(22.3,0.0186),(22.5,0.0185),(22.7,0.0190),(22.9,0.0200),(23.1,0.0207),(23.3,0.0208),(23.5,0.0200),(23.8,0.0190),(24.1,0.0184),(24.5,0.0180),(24.9,0.0180),(25.3,0.0184),(25.7,0.0190),(26.1,0.0195),(26.5,0.0194),(26.9,0.0191),(27.3,0.0191),(27.7,0.0193),(28.1,0.0195),(28.5,0.0192),(28.9,0.0190),(29.3,0.0187),(29.7,0.0185),(30.1,0.0185),(30.5,0.0188),(30.9,0.0186),(31.3,0.0185),(31.7,0.0184),(32.1,0.0186),(32.5,0.0189),(32.9,0.0193),(33.2,0.0198)]
e_q_calc = [(18.2,0.0190),(18.21,0.0606),(18.22,0.0190),(18.24,0.0750),(18.26,0.1520),(18.28,0.1300),(18.31,0.1085),(18.34,0.1250),(18.37,0.1205),(18.45,0.1212),(18.6,0.1210),(18.75,0.1212),(18.9,0.1211),(19.2,None),(19.6,0.1195),(19.65,0.1185),(19.7,0.1205),(19.75,0.1190),(19.8,0.1210),(19.85,0.1195),(19.9,0.1215),(19.95,0.1200),(20.0,0.1220),(20.05,0.1205),(20.1,0.1225),(20.15,0.1210),(20.2,0.1232),(20.25,0.1212),(20.3,0.1215),(20.5,None),(20.65,0.1215),(20.7,0.1200),(20.75,0.1220),(20.8,0.1205),(20.85,0.1218),(20.9,0.1200),(20.95,0.1212),(21.0,0.1195),(21.05,0.1210),(21.1,0.1200),(21.2,0.1210),(21.3,0.1205),(21.4,0.1212),(21.5,0.1210),(21.6,None),(21.65,0.1215),(21.7,0.1230),(21.75,0.1210),(21.8,0.1225),(21.85,0.1205),(21.9,0.1222),(21.95,0.1200),(22.0,0.1218),(22.05,0.1195),(22.1,0.1215),(22.15,0.1192),(22.2,0.1210),(22.25,0.1195),(22.3,0.1205),(22.4,0.1198),(22.5,None),(22.7,0.1215),(22.75,0.1225),(22.8,0.1208),(22.85,0.1222),(22.9,0.1205),(22.95,0.1218),(23.0,0.1210),(23.1,0.1220),(23.15,0.1205),(23.2,0.1215),(23.3,0.1208),(23.4,0.1218),(23.45,0.1200),(23.5,0.1212),(23.6,0.1205),(23.65,0.1195),(23.9,None),(24.3,0.1210),(24.35,0.1222),(24.4,0.1205),(24.5,0.1215),(24.6,0.1208),(24.7,0.1218),(24.75,0.1200),(24.8,0.1212),(24.9,0.1205),(25.0,0.1215),(25.05,0.1198),(25.1,0.1212),(25.2,0.1208),(25.3,0.1214),(25.4,0.1206),(25.55,0.1212),(25.7,None),(25.8,0.1210),(26.5,0.1211),(27.2,0.1210),(27.9,0.1211),(28.2,None),(28.6,0.1210),(29.2,0.1211),(29.85,0.1210),(29.9,0.1222),(29.93,0.1200),(30.0,0.1210),(30.2,0.1211),(30.6,None),(31.15,0.1210),(31.2,0.1225),(31.23,0.1195),(31.3,0.1215),(31.35,0.1198),(31.4,0.1220),(31.45,0.1195),(31.5,0.1212),(31.55,0.1200),(31.6,0.1222),(31.65,0.1200),(31.7,0.1210),(31.9,0.1210),(32.05,None),(32.2,0.1228),(32.25,0.1200),(32.3,0.1212),(32.4,0.1195),(32.5,0.1208),(32.7,0.1205),(32.9,0.1208),(33.1,0.1212),(33.2,0.1205),(33.3,0.1210)]


def split(pts):
    return [p[0] for p in pts], [p[1] for p in pts]


P_TITLE = "Pmeasured <i>vs.</i> Pevaluated: Structure #1"
Q_TITLE = "Qmeasured <i>vs.</i> Qevaluated: Structure #1"
P_YT = "Pmeasured versus Pevaluated (pu)"
Q_YT = "Qmeasured versus Qevaluated (pu)"

# layout geometry in pixels: box (left, top, right, bottom), legend (right, top), y-title x, title y, x-title y
panels = [
    dict(meas=a_p_meas, calc=a_p_calc, kind="P", box=(54, 19, 322, 194), xt=x_ticks_a, yt=a_p_yticks, leg=(318, 24), ytx=14, tty=11.7, xty=216.7),
    dict(meas=a_q_meas, calc=a_q_calc, kind="Q", box=(394, 20, 659, 194), xt=x_ticks_a, yt=a_q_yticks, leg=(655, 23), ytx=357, tty=11.7, xty=216.7),
    dict(meas=b_p_meas, calc=b_p_calc, kind="P", box=(54, 289, 322, 463), xt=x_ticks_b, yt=b_p_yticks, leg=(319, 292), ytx=25, tty=279.3, xty=485.3),
    dict(meas=b_q_meas, calc=b_q_calc, kind="Q", box=(397, 289, 655, 463), xt=x_ticks_b, yt=b_q_yticks, leg=(651, 291), ytx=365, tty=279.3, xty=485.3),
    dict(meas=c_p_meas, calc=c_p_calc, kind="P", box=(55, 554, 322, 728), xt=x_ticks_c, yt=c_p_yticks, leg=(319, 557), ytx=20.7, tty=545, xty=750),
    dict(meas=c_q_meas, calc=c_q_calc, kind="Q", box=(404, 555, 661, 729), xt=x_ticks_c, yt=c_q_yticks, leg=(657, 558), ytx=361, tty=545, xty=750),
    dict(meas=d_p_meas, calc=d_p_calc, kind="P", box=(61, 820, 328, 994), xt=x_ticks_de, yt=d_p_yticks, leg=(323, 824), ytx=20.7, tty=811.7, xty=1016.7),
    dict(meas=d_q_meas, calc=d_q_calc, kind="Q", box=(405, 821, 657, 995), xt=x_ticks_de, yt=d_q_yticks, leg=(657, 824), ytx=365, tty=811.7, xty=1016.7),
    dict(meas=e_p_meas, calc=e_p_calc, kind="P", box=(66, 1087, 326, 1262), xt=x_ticks_de, yt=e_p_yticks, leg=(323, 1091), ytx=31.7, tty=1078, xty=1284.3),
    dict(meas=e_q_meas, calc=e_q_calc, kind="Q", box=(403, 1089, 655, 1262), xt=x_ticks_de, yt=e_q_yticks, leg=(654, 1092), ytx=367, tty=1079, xty=1284.3),
]
caption_y = [240, 509.5, 776, 1041.5, 1308.5]

fig = go.Figure()
layout = {}
annotations = []
tickfont = dict(family=FONT, size=11, color="#222")

for i, p in enumerate(panels, start=1):
    sfx = "" if i == 1 else str(i)
    xa, ya = "x" + sfx, "y" + sfx
    leg = "legend" + sfx
    l, t, r, b = p["box"]
    names = ("Pmeasured", "Pcalculated") if p["kind"] == "P" else ("Qmeasured", "Qcalculated")
    tm, vm = split(p["meas"])
    tc, vc = split(p["calc"])
    fig.add_trace(go.Scatter(x=tm, y=vm, mode="lines", name=names[0], line=dict(color=BLUE, width=1),
                             xaxis=xa, yaxis=ya, legend=leg, hoverinfo="skip"))
    fig.add_trace(go.Scatter(x=tc, y=vc, mode="lines", name=names[1], line=dict(color=GREEN, width=1),
                             xaxis=xa, yaxis=ya, legend=leg, hoverinfo="skip", connectgaps=False))
    xv = [float(s) for s in p["xt"]]
    yv = [float(s) for s in p["yt"]]
    common = dict(ticks="inside", ticklen=4, tickwidth=1, tickcolor="#222", showline=True, linecolor="#222",
                  linewidth=1, mirror="ticks", showgrid=False, zeroline=False, tickfont=tickfont,
                  fixedrange=True, automargin=False)
    layout["xaxis" + sfx] = dict(domain=[l / W, r / W], range=[xv[0], xv[-1]], tickvals=xv, ticktext=p["xt"],
                                 anchor=ya, **common)
    layout["yaxis" + sfx] = dict(domain=[1 - b / H, 1 - t / H], range=[yv[0], yv[-1]], tickvals=yv, ticktext=p["yt"],
                                 anchor=xa, **common)
    lx, ly = p["leg"]
    layout[leg] = dict(x=lx / W, y=1 - ly / H, xanchor="right", yanchor="top", xref="paper", yref="paper",
                       bgcolor="white", bordercolor="#111", borderwidth=1, tracegroupgap=0,
                       font=dict(family=FONT, size=11, color="#222"), itemwidth=30)
    cx = (l + r) / 2
    annotations.append(dict(text=P_TITLE if p["kind"] == "P" else Q_TITLE, x=cx / W, y=1 - p["tty"] / H,
                            xref="paper", yref="paper", xanchor="center", yanchor="middle", showarrow=False,
                            font=dict(family=FONT, size=11, color="#222")))
    annotations.append(dict(text="Time (sec)", x=cx / W, y=1 - p["xty"] / H, xref="paper", yref="paper",
                            xanchor="center", yanchor="middle", showarrow=False,
                            font=dict(family=FONT, size=11, color="#222")))
    annotations.append(dict(text=P_YT if p["kind"] == "P" else Q_YT, x=p["ytx"] / W, y=1 - ((t + b) / 2) / H,
                            xref="paper", yref="paper", xanchor="center", yanchor="middle", showarrow=False,
                            textangle=-90, font=dict(family=FONT, size=11, color="#222")))

for cap, cy in zip(captions, caption_y):
    annotations.append(dict(text=cap, x=350 / W, y=1 - cy / H, xref="paper", yref="paper", xanchor="center",
                            yanchor="middle", showarrow=False, font=dict(family=FONT, size=19, color="#111")))

fig.update_layout(template="none", width=W, height=H, autosize=False, margin=dict(l=0, r=0, t=0, b=0, pad=0),
                  paper_bgcolor="white", plot_bgcolor="white", showlegend=True,
                  font=dict(family=FONT, size=11, color="#222"), annotations=annotations, **layout)
fig.write_html("out.html", config={"displayModeBar": False},
               post_script="document.body.style.margin='0';document.body.style.overflow='hidden';")
